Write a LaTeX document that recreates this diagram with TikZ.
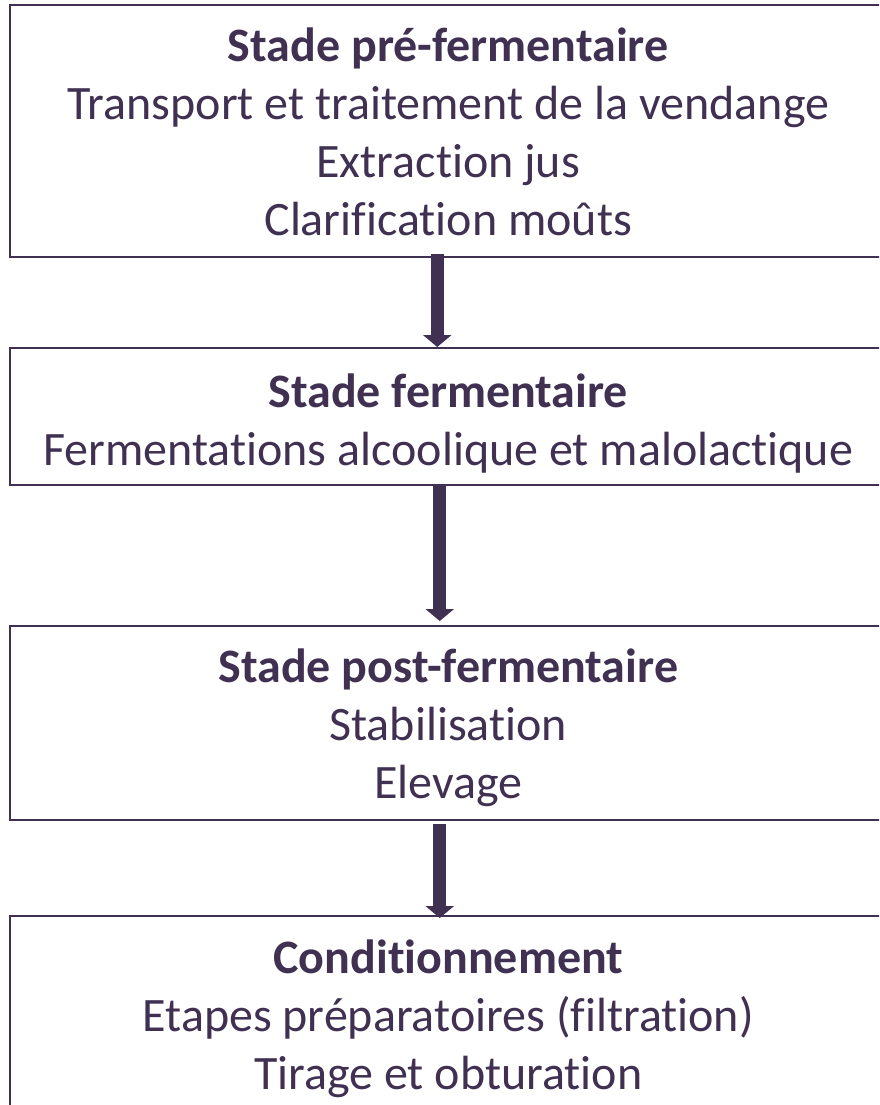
\documentclass[tikz,border=0pt]{standalone}
\usepackage{fontspec}
\setmainfont{Carlito}[Ligatures={NoCommon}]
\usetikzlibrary{arrows.meta}
\definecolor{ink}{HTML}{403152}
\tikzset{
  stagebox/.style={draw=ink, line width=2pt, rectangle, inner sep=0pt, minimum width=877.5pt},
  stagetext/.style={inner sep=0pt, align=center, text=ink, font=\fontsize{48}{58}\selectfont},
  flow/.style={draw=ink, line width=13pt, -{Triangle[width=28pt,length=12pt]}}
}
\begin{document}
\begin{tikzpicture}[x=1pt,y=-1pt]
\clip (0,0) rectangle (879,1105);
\fill[white] (0,0) rectangle (879,1105);
\node[stagebox, minimum height=252pt] (b1) at (448.25,131) {};
\node[stagebox, minimum height=137pt] (b2) at (448.25,416.5) {};
\node[stagebox, minimum height=194pt] (b3) at (448.25,723) {};
\node[stagebox, minimum height=195pt] (b4) at (448.25,1013.5) {};
\node[stagetext] (t1) at ([yshift=-0.5pt]b1.center) {\textbf{Stade pré-fermentaire}\\Transport et traitement de la vendange\\Extraction jus\\Clarification moûts};
\node[stagetext] (t2) at ([yshift=-7pt]b2.center) {\textbf{Stade fermentaire}\\Fermentations alcoolique et malolactique};
\node[stagetext] (t3) at ([yshift=-5pt]b3.center) {\textbf{Stade post-fermentaire}\\Stabilisation\\Elevage};
\node[stagetext] (t4) at ([yshift=-5pt]b4.center) {\textbf{Conditionnement}\\Etapes préparatoires (filtration)\\Tirage et obturation};
\draw[flow] ([xshift=-11pt,yshift=4pt]b1.south) -- ([xshift=-11pt]b2.north);
\draw[flow] ([xshift=-8.5pt,yshift=2pt]b2.south) -- ([xshift=-8.5pt,yshift=4pt]b3.north);
\draw[flow] ([xshift=-8.5pt,yshift=-3pt]b3.south) -- ([xshift=-8.5pt,yshift=-3pt]b4.north);
\end{tikzpicture}
\end{document}
